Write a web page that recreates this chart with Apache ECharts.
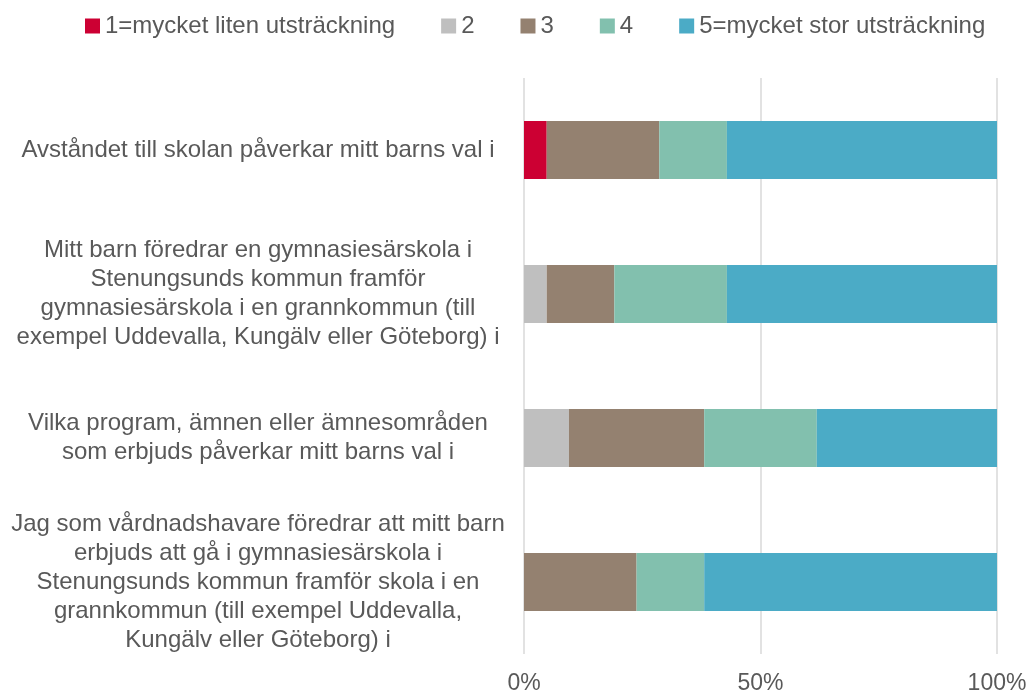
<!DOCTYPE html>
<html>
<head>
<meta charset="utf-8">
<script src="https://cdn.jsdelivr.net/npm/echarts@6/dist/echarts.min.js"></script>
<style>
  html, body { margin: 0; padding: 0; background: #fff; }
  #chart { width: 1027px; height: 694px; }
</style>
</head>
<body>
<div id="chart"></div>
<script>
  var categories = [
    'Avståndet till skolan påverkar mitt barns val i',
    'Mitt barn föredrar en gymnasiesärskola i\nStenungsunds kommun framför\ngymnasiesärskola i en grannkommun (till\nexempel Uddevalla, Kungälv eller Göteborg) i',
    'Vilka program, ämnen eller ämnesområden\nsom erbjuds påverkar mitt barns val i',
    'Jag som vårdnadshavare föredrar att mitt barn\nerbjuds att gå i gymnasiesärskola i\nStenungsunds kommun framför skola i en\ngrannkommun (till exempel Uddevalla,\nKungälv eller Göteborg) i'
  ]
  var seriesNames = ['1=mycket liten utsträckning', '2', '3', '4', '5=mycket stor utsträckning']
  // andel svar i procent per alternativ
  var s1 = [4.8, 0, 0, 0]
  var s2 = [0, 4.8, 9.5, 0]
  var s3 = [23.8, 14.3, 28.6, 23.8]
  var s4 = [14.3, 23.8, 23.8, 14.3]
  var s5 = [57.1, 57.1, 38.1, 61.9]
  var xTicks = ['0%', '50%', '100%']
  var colors = ['#CC0033', '#BFBFBF', '#948170', '#82C0AE', '#4BABC6']

  var font = 'Liberation Sans, Arial, sans-serif'
  var allData = [s1, s2, s3, s4, s5]

  var chart = echarts.init(document.getElementById('chart'))
  chart.setOption({
    animation: false,
    textStyle: {fontFamily: font},
    legend: {
      top: 9,
      left: 80,
      itemWidth: 15,
      itemHeight: 15,
      itemGap: 46,
      icon: 'rect',
      textStyle: {fontSize: 24, color: '#595959', fontFamily: font},
      data: seriesNames
    },
    grid: {
      left: 524,
      right: 30,
      top: 78,
      bottom: 40,
      outerBoundsMode: 'none'
    },
    xAxis: {
      type: 'value',
      min: 0,
      max: 100,
      interval: 50,
      axisLine: {show: false},
      axisTick: {show: false},
      splitLine: {lineStyle: {color: '#D9D9D9', width: 1.5}},
      axisLabel: {
        fontSize: 23,
        color: '#595959',
        margin: 18,
        formatter: function (v) {
          return xTicks[v / 50]
        }
      }
    },
    yAxis: {
      type: 'category',
      inverse: true,
      data: categories,
      axisLine: {show: false},
      axisTick: {show: false},
      axisLabel: {
        fontSize: 24,
        color: '#595959',
        lineHeight: 29,
        align: 'center',
        margin: 266
      }
    },
    series: seriesNames.map(function (name, i) {
      return {
        name: name,
        type: 'bar',
        stack: 'total',
        barWidth: 58,
        itemStyle: {color: colors[i]},
        data: allData[i]
      }
    })
  })
</script>
</body>
</html>
